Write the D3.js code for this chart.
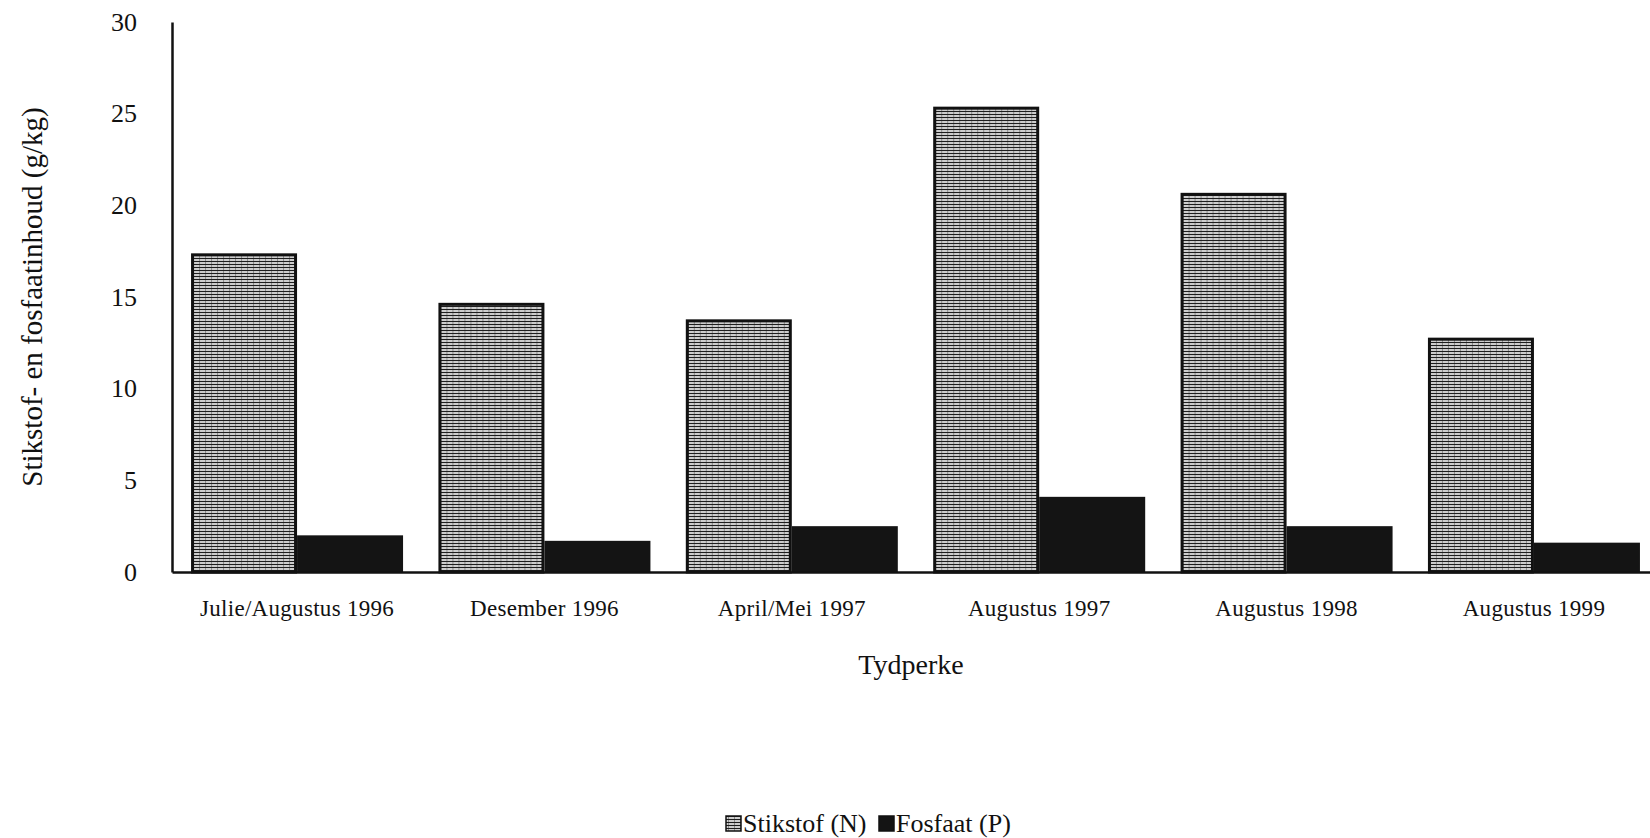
<!DOCTYPE html>
<html>
<head>
<meta charset="utf-8">
<script src="https://cdn.jsdelivr.net/npm/d3@7/dist/d3.min.js"></script>
<style>
  html, body { margin: 0; padding: 0; background: #fff; }
  svg { display: block; }
  text { font-family: "Liberation Serif", "Times New Roman", serif; fill: #111; }
</style>
</head>
<body>
<svg id="chart" width="1650" height="838"></svg>
<script>
const categories = ["Julie/Augustus 1996", "Desember 1996", "April/Mei 1997", "Augustus 1997", "Augustus 1998", "Augustus 1999"];
const seriesNames = ["Stikstof (N)", "Fosfaat (P)"];
const stikstof = [17.3, 14.6, 13.7, 25.3, 20.6, 12.7];
const fosfaat = [2.0, 1.7, 2.5, 4.1, 2.5, 1.6];
const yTicks = [0, 5, 10, 15, 20, 25, 30];
const yTitle = "Stikstof- en fosfaatinhoud (g/kg)";
const xTitle = "Tydperke";

const svg = d3.select("#chart");
const defs = svg.append("defs");
const pat = defs.append("pattern").attr("id", "hatchN").attr("patternUnits", "userSpaceOnUse")
  .attr("width", 6).attr("height", 3);
pat.append("rect").attr("width", 6).attr("height", 3).attr("fill", "#cdcdcd");
pat.append("rect").attr("y", 0).attr("width", 6).attr("height", 1).attr("fill", "#1e1e1e");
pat.append("rect").attr("x", 2).attr("y", 1).attr("width", 1).attr("height", 2).attr("fill", "#8a8a8a");

const y = d3.scaleLinear().domain([0, 30]).range([572, 22]);
const x0 = d3.scaleBand().domain(categories).range([172, 1659]).paddingInner(0.143).paddingOuter(0.077);
const x1 = d3.scaleBand().domain(seriesNames).range([0, x0.bandwidth()]).padding(0);

const data = categories.map((c, i) => ({ cat: c, values: [
  { key: seriesNames[0], v: stikstof[i] },
  { key: seriesNames[1], v: fosfaat[i] }
]}));

const groups = svg.append("g").selectAll("g").data(data).join("g")
  .attr("transform", d => `translate(${x0(d.cat)},0)`);

groups.selectAll("rect").data(d => d.values).join("rect")
  .attr("x", d => x1(d.key) + (d.key === seriesNames[0] ? 1.5 : 0))
  .attr("y", d => y(d.v))
  .attr("width", d => x1.bandwidth() - (d.key === seriesNames[0] ? 3 : 0))
  .attr("height", d => y(0) - y(d.v))
  .attr("fill", d => d.key === seriesNames[0] ? "url(#hatchN)" : "#141414")
  .attr("stroke", d => d.key === seriesNames[0] ? "#111" : "none")
  .attr("stroke-width", 3);

// Y axis
const yAxis = svg.append("g").attr("transform", "translate(172,0)")
  .call(d3.axisLeft(y).tickValues(yTicks).tickSize(0).tickPadding(35).tickFormat(d3.format("d")));
yAxis.select(".domain").attr("stroke", "#111").attr("stroke-width", 2.5);
yAxis.selectAll("text").style("font-size", "26px").style("font-family", "Liberation Serif").attr("fill", "#111");

// X axis
const xAxis = svg.append("g").attr("transform", "translate(0,572)")
  .call(d3.axisBottom(x0).tickSize(0).tickPadding(0));
xAxis.select(".domain").attr("stroke", "#111").attr("stroke-width", 2.5);
xAxis.selectAll("text").attr("y", 44).attr("dy", 0)
  .style("font-size", "23px").style("font-family", "Liberation Serif").style("letter-spacing", "0.3px").attr("fill", "#111");

// Titles
svg.append("text").attr("x", 911).attr("y", 674).attr("text-anchor", "middle")
  .style("font-size", "28px").text(xTitle);
svg.append("text").attr("transform", "translate(32,297) rotate(-90)")
  .attr("text-anchor", "middle").attr("dominant-baseline", "central")
  .style("font-size", "29px").text(yTitle);

// Legend
const legend = svg.append("g").attr("transform", "translate(726,0)");
const legItems = [
  { name: seriesNames[0], fill: "url(#hatchN)", x: 0 },
  { name: seriesNames[1], fill: "#141414", x: 153 }
];
const li = legend.selectAll("g").data(legItems).join("g").attr("transform", d => `translate(${d.x},0)`);
li.append("rect").attr("x", 0).attr("y", 816).attr("width", 15).attr("height", 15)
  .attr("fill", d => d.fill).attr("stroke", "#111").attr("stroke-width", 1.5);
li.append("text").attr("x", 17).attr("y", 832).style("font-size", "26px").text(d => d.name);
</script>
</body>
</html>
